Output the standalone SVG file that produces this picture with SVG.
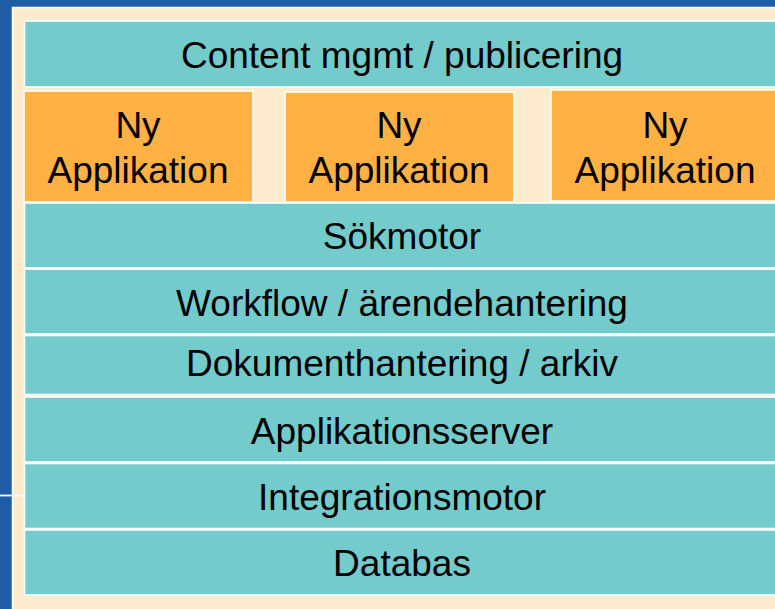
<svg xmlns="http://www.w3.org/2000/svg" width="775" height="609" viewBox="0 0 775 609">
<style>
.bar{fill:#73CBCB;stroke:#FFFFFF;stroke-width:1.6}
.app{fill:#FFB243;stroke:#FFFFFF;stroke-width:1.6}
.t{font-family:"Liberation Sans",Arial,sans-serif;font-size:37px;fill:#000000;text-anchor:middle}
</style>
<rect x="0" y="0" width="775" height="609" fill="#1F5EA7"/>
<rect x="12.5" y="7.5" width="770" height="610" fill="#FDEBCD" stroke="#FFFFFF" stroke-width="1.5"/>
<line x1="0" y1="495.5" x2="25" y2="495.5" stroke="#FFFFFF" stroke-width="1.8"/>
<g id="content"><rect class="bar" x="24.5" y="21" width="760" height="66"/><text class="t" x="402" y="68">Content mgmt / publicering</text></g>
<g id="app1"><rect class="app" x="24" y="91" width="229" height="111"/><text class="t" x="138" y="138">Ny</text><text class="t" x="138" y="183">Applikation</text></g>
<g id="app2"><rect class="app" x="285" y="92" width="229" height="110"/><text class="t" x="399" y="138">Ny</text><text class="t" x="399" y="183">Applikation</text></g>
<g id="app3"><rect class="app" x="551" y="90" width="235" height="111"/><text class="t" x="665" y="138">Ny</text><text class="t" x="665" y="183">Applikation</text></g>
<g id="sok"><rect class="bar" x="24.5" y="203" width="760" height="65"/><text class="t" x="402" y="249">Sökmotor</text></g>
<g id="workflow"><rect class="bar" x="24.5" y="269" width="760" height="65"/><text class="t" x="402" y="316">Workflow / ärendehantering</text></g>
<g id="dokument"><rect class="bar" x="24.5" y="335.5" width="760" height="59"/><text class="t" x="402" y="376">Dokumenthantering / arkiv</text></g>
<g id="appserver"><rect class="bar" x="24.5" y="397" width="760" height="65"/><text class="t" x="402" y="444">Applikationsserver</text></g>
<g id="integration"><rect class="bar" x="24.5" y="463.5" width="760" height="65"/><text class="t" x="402" y="510">Integrationsmotor</text></g>
<g id="databas"><rect class="bar" x="24.5" y="530" width="760" height="65"/><text class="t" x="402" y="576">Databas</text></g>
<g id="connectors"></g>
</svg>
